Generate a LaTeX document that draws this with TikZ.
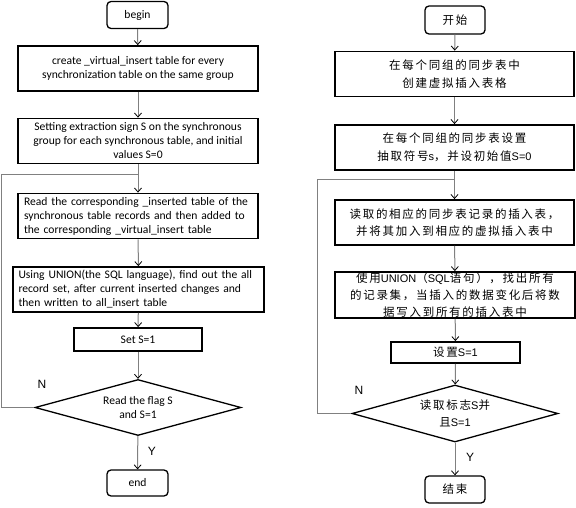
\documentclass[tikz,border=0pt]{standalone}
\usepackage{fontspec}
\setmainfont{Carlito}
\newfontfamily\cjk[LetterSpace=15]{Noto Sans CJK SC}
\newfontfamily\yn{Liberation Sans}
\newcommand{\lat}[1]{{\yn\fontsize{11pt}{17pt}\selectfont #1}}
\usepackage{xcolor}
\usetikzlibrary{positioning, arrows.meta, shapes.geometric}

\tikzset{
  stepbox/.style={draw=black, line width=1.8pt, minimum width=240pt, minimum height=45pt, inner sep=0pt, align=center},
  termbox/.style={draw=black, line width=1.3pt, rounded corners=4pt, minimum width=61pt, minimum height=27pt, inner sep=0pt},
  testbox/.style={draw=black, line width=1.3pt, diamond, aspect=3.7, minimum width=206pt, minimum height=56pt, inner sep=0pt, align=center},
  flow/.style={draw=black!50, line width=1pt, -{Straight Barb[length=4pt,width=7pt,line width=0.8pt,color=black]}},
  back/.style={draw=black!50, line width=1pt},
  entxt/.style={font=\fontsize{11.6pt}{14pt}\selectfont},
  zhtxt/.style={font=\cjk\fontsize{11.5pt}{17.5pt}\selectfont},
  yntxt/.style={font=\yn\fontsize{12pt}{14pt}\selectfont}
}

\begin{document}
\begin{tikzpicture}[x=1pt, y=-1pt]
  \useasboundingbox (0,0) rectangle (576,508);

  % left chart
  \node[termbox, entxt] (lbegin) at (137.5,15) {begin};
  \node[stepbox, entxt] (lcreate) at (138,68.5)
     {create \_virtual\_insert table for every\\synchronization table on the same group};
  \node[stepbox, entxt] (lsign) at (138,141)
     {Setting extraction sign S on the synchronous\\group for each synchronous table, and initial\\values S=0};
  \node[stepbox, entxt, align=left, text width=228pt] (lread) at (138,216)
     {Read the corresponding \_inserted table of the\\synchronous table records and then added to\\the corresponding \_virtual\_insert table};
  \node[stepbox, entxt, align=left, text width=240pt, minimum width=251pt] (lunion) at (138.5,289.5)
     {Using UNION(the SQL language), find out the all\\record set, after current inserted changes and\\then written to all\_insert table};
  \node[stepbox, entxt, minimum width=128pt, minimum height=23pt] (lset) at (138,339.5) {Set S=1};
  \node[testbox, entxt] (ltest) at (138,407.5) {Read the flag S\\and S=1};
  \node[termbox, entxt, minimum height=26pt] (lend) at (137.5,483) {end};
  \coordinate (ljoin) at (138,175);

  \draw[flow] (lbegin) -- (lcreate);
  \draw[flow] (lcreate) -- (lsign);
  \draw[flow] (lsign) -- (lread);
  \draw[flow] (lread) -- (lunion);
  \draw[flow] (lunion) -- (lset);
  \draw[flow] (lset) -- (ltest);
  \draw[flow] (ltest) -- (lend);
  \draw[back] (ltest.west) -- ++(-33,0) |- (ljoin);
  \node[yntxt] (lno) at (42,384) {N};
  \node[yntxt] (lyes) at (152,451) {Y};

  % right chart
  \node[termbox, zhtxt, minimum width=60pt, minimum height=28pt] (rbegin) at (455,20) {开始};
  \node[stepbox, zhtxt, minimum width=239pt] (rcreate) at (454.5,74)
     {在每个同组的同步表中\\创建虚拟插入表格};
  \node[stepbox, zhtxt, minimum width=239pt] (rsign) at (454.5,147.5)
     {在每个同组的同步表设置\\抽取符号\lat{s}，并设初始值\lat{S=0}};
  \node[stepbox, zhtxt, minimum width=239pt] (rread) at (454.5,222.5)
     {读取的相应的同步表记录的插入表，\\并将其加入到相应的虚拟插入表中};
  \node[stepbox, zhtxt, minimum width=240pt, minimum height=46pt, font=\cjk\fontsize{11.5pt}{17pt}\selectfont] (runion) at (455,295)
     {使用\lat{UNION}（\lat{SQL}语句），找出所有\\的记录集，当插入的数据变化后将数\\据写入到所有的插入表中};
  \node[stepbox, zhtxt, minimum width=129pt, minimum height=21pt] (rset) at (455.5,352.5) {设置\lat{S=1}};
  \node[testbox, zhtxt, minimum height=57pt] (rtest) at (455,413.5) {读取标志\lat{S}并\\且\lat{S=1}};
  \node[termbox, zhtxt, minimum width=60pt] (rend) at (455,489.5) {结束};
  \coordinate (rjoin) at (455,180);

  \draw[flow] (rbegin) -- (rcreate);
  \draw[flow] (rcreate) -- (rsign);
  \draw[flow] (rsign) -- (rread);
  \draw[flow] (rread) -- (runion);
  \draw[flow] (runion) -- (rset);
  \draw[flow] (rset) -- (rtest);
  \draw[flow] (rtest) -- (rend);
  \draw[back] (rtest.west) -- ++(-34,0) |- (rjoin);
  \node[yntxt] (rno) at (359,390) {N};
  \node[yntxt] (ryes) at (470,457) {Y};
\end{tikzpicture}
\end{document}
